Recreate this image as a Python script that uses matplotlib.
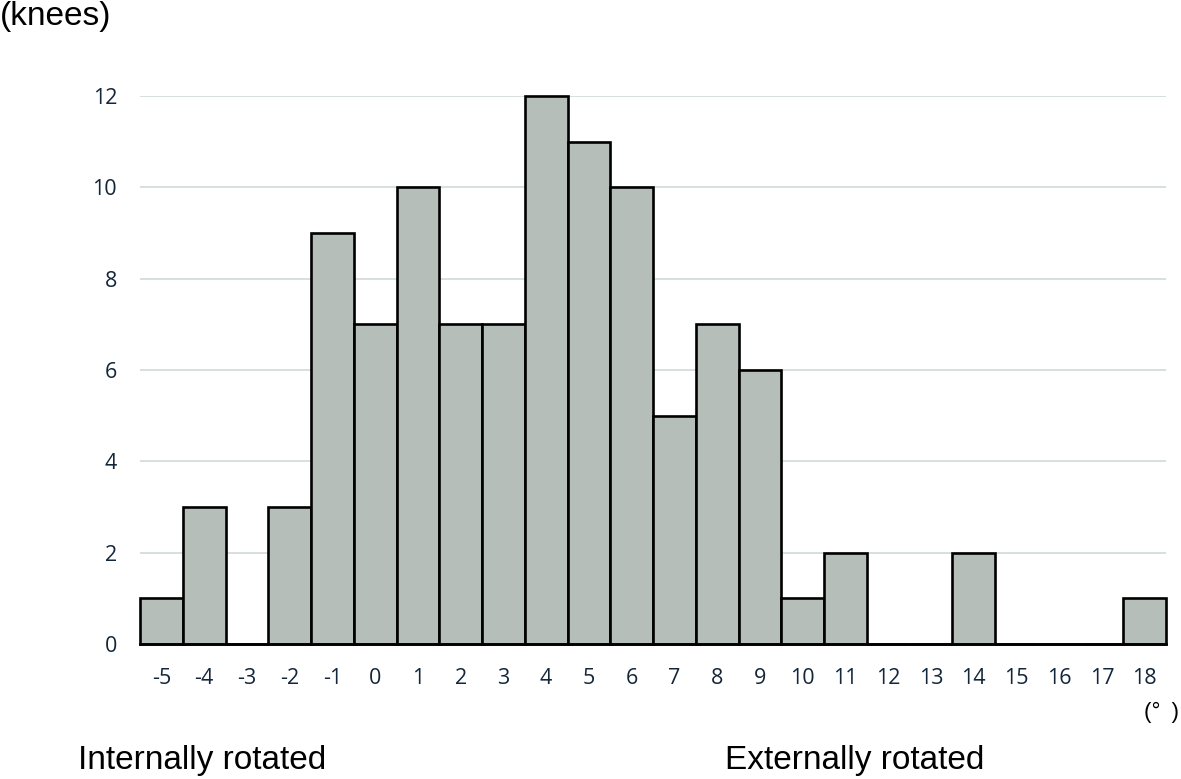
import matplotlib
matplotlib.use("Agg")
import matplotlib.pyplot as plt

angles = [-5, -4, -3, -2, -1, 0, 1, 2, 3, 4, 5, 6, 7, 8, 9, 10, 11, 12, 13, 14, 15, 16, 17, 18]
knees = [1, 3, 0, 3, 9, 7, 10, 7, 7, 12, 11, 10, 5, 7, 6, 1, 2, 0, 0, 2, 0, 0, 0, 1]
y_ticks = [0, 2, 4, 6, 8, 10, 12]

W, H = 1181, 779
fig = plt.figure(figsize=(W / 100, H / 100), dpi=100)
left, right, top, bottom = 140, 1166, 96, 644
ax = fig.add_axes([left / W, 1 - bottom / H, (right - left) / W, (bottom - top) / H])

pos = list(range(len(angles)))
ax.bar(pos, knees, width=1.0, color="#b5beb8", edgecolor="black", linewidth=1.9,
       zorder=3, clip_on=False)
ax.set_xlim(-0.5, len(angles) - 0.5)
ax.set_ylim(0, 12)
ax.axhline(0, color="black", linewidth=1.9, zorder=4, clip_on=False)

for s in ax.spines.values():
    s.set_visible(False)
ax.set_yticks(y_ticks)
ax.yaxis.grid(True, color="#d3dcdd", linewidth=1.3, zorder=0)
ax.set_axisbelow(True)
ax.set_xticks(pos)
ax.set_xticklabels([str(a) for a in angles])
ax.tick_params(axis="both", length=0, labelsize=15.5, labelcolor="#13263a")
ax.tick_params(axis="x", pad=17)
ax.tick_params(axis="y", pad=16.5)
for lab in ax.get_xticklabels() + ax.get_yticklabels():
    lab.set_fontfamily("Open Sans")
    lab.set_fontweight("medium")

fig.text(0 / W, 1 - 17 / H, "(knees)", fontsize=24, family="Liberation Sans",
         ha="left", va="center")
fig.text(1161 / W, 1 - 712 / H, "(°\u2002)", fontsize=16, family="Liberation Sans",
         ha="center", va="center")
fig.text(78 / W, 1 - 760 / H, "Internally rotated", fontsize=24, family="Liberation Sans",
         ha="left", va="center")
fig.text(725 / W, 1 - 760 / H, "Externally rotated", fontsize=24, family="Liberation Sans",
         ha="left", va="center")

fig.savefig("out.png", dpi=100)
